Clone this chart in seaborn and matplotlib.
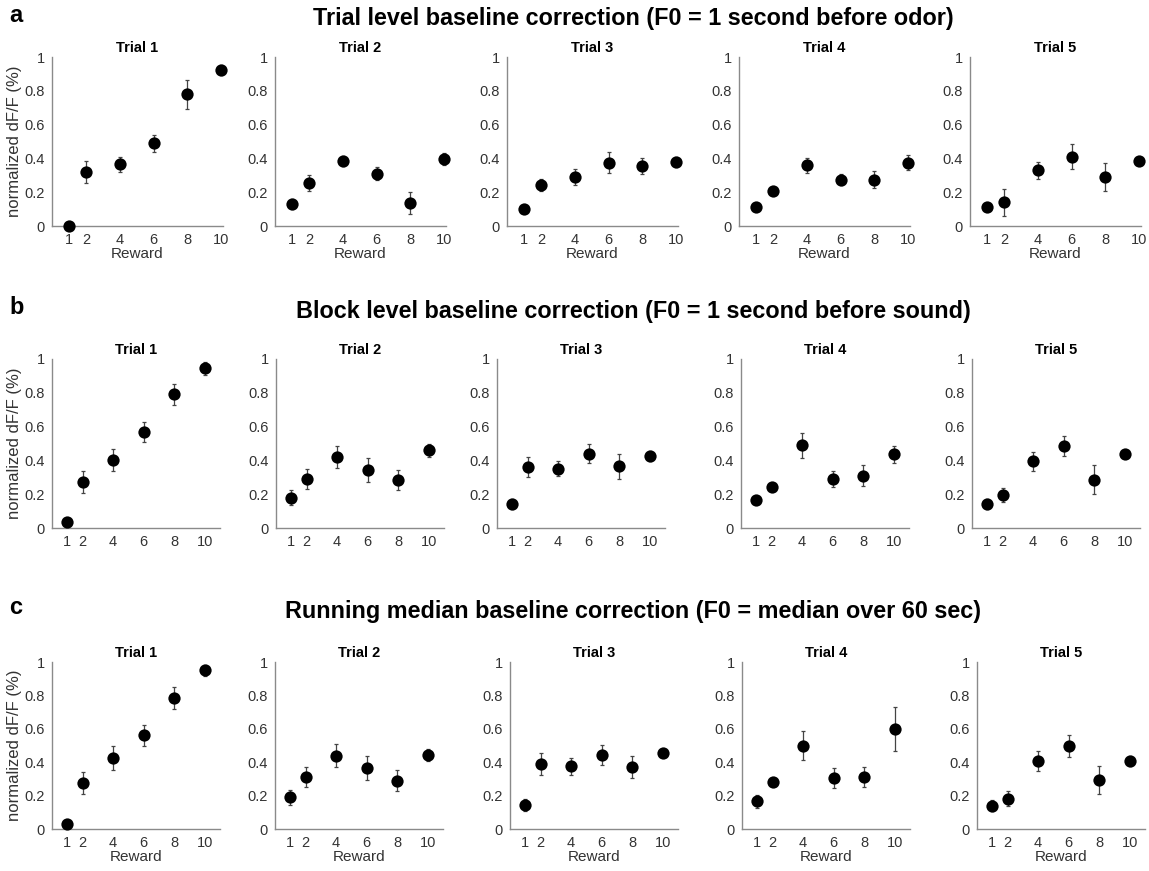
import matplotlib
matplotlib.use("Agg")
import matplotlib.pyplot as plt
import seaborn as sns
import pandas as pd
import numpy as np

sns.set_style("white")
plt.rcParams['font.family'] = ['Liberation Sans', 'DejaVu Sans']

rewards = [1, 2, 4, 6, 8, 10]
trial_names = ["Trial 1", "Trial 2", "Trial 3", "Trial 4", "Trial 5"]
row_letters = ["a", "b", "c"]
row_titles = [
    "Trial level baseline correction (F0 = 1 second before odor)",
    "Block level baseline correction (F0 = 1 second before sound)",
    "Running median baseline correction (F0 = median over 60 sec)",
]

a_mean = [
    [0.00, 0.32, 0.365, 0.49, 0.78, 0.925],
    [0.13, 0.255, 0.385, 0.31, 0.135, 0.395],
    [0.10, 0.245, 0.29, 0.375, 0.355, 0.38],
    [0.115, 0.205, 0.36, 0.275, 0.275, 0.375],
    [0.115, 0.14, 0.33, 0.41, 0.29, 0.385],
]
a_err = [
    [0.005, 0.065, 0.045, 0.05, 0.085, 0.03],
    [0.03, 0.045, 0.03, 0.04, 0.065, 0.035],
    [0.01, 0.035, 0.045, 0.06, 0.05, 0.03],
    [0.01, 0.01, 0.045, 0.035, 0.05, 0.045],
    [0.02, 0.08, 0.05, 0.075, 0.08, 0.015],
]
b_mean = [
    [0.035, 0.27, 0.405, 0.57, 0.79, 0.945],
    [0.18, 0.29, 0.42, 0.345, 0.285, 0.46],
    [0.14, 0.36, 0.35, 0.44, 0.365, 0.425],
    [0.165, 0.245, 0.49, 0.29, 0.31, 0.435],
    [0.14, 0.195, 0.395, 0.485, 0.285, 0.44],
]
b_err = [
    [0.01, 0.065, 0.065, 0.06, 0.065, 0.04],
    [0.045, 0.06, 0.065, 0.07, 0.06, 0.04],
    [0.03, 0.06, 0.045, 0.055, 0.075, 0.03],
    [0.01, 0.02, 0.075, 0.05, 0.06, 0.05],
    [0.03, 0.04, 0.055, 0.06, 0.085, 0.01],
]
c_mean = [
    [0.03, 0.275, 0.425, 0.56, 0.785, 0.95],
    [0.19, 0.31, 0.44, 0.365, 0.29, 0.445],
    [0.145, 0.39, 0.375, 0.445, 0.37, 0.455],
    [0.165, 0.28, 0.50, 0.305, 0.31, 0.60],
    [0.14, 0.18, 0.41, 0.495, 0.295, 0.405],
]
c_err = [
    [0.01, 0.065, 0.07, 0.06, 0.065, 0.035],
    [0.045, 0.06, 0.07, 0.07, 0.065, 0.035],
    [0.035, 0.065, 0.05, 0.06, 0.065, 0.015],
    [0.04, 0.02, 0.085, 0.06, 0.06, 0.13],
    [0.035, 0.045, 0.06, 0.065, 0.085, 0.03],
]

means = [a_mean, b_mean, c_mean]
errs = [a_err, b_err, c_err]

W, H = 1149, 871
fig = plt.figure(figsize=(W / 100, H / 100), dpi=100)

# layout in pixels
row_top = [57, 359, 662]
row_bot = [226, 528, 829]
row_lefts = [
    [52, 275, 507, 739, 970],
    [52, 276, 497, 741, 972],
    [52, 275, 510, 742, 977],
]
row_width = [171, 168, 168]
row_xmax = [10.1, 11.0, 11.0]
title_y = [19, 311, 611]
show_xlabel = [True, False, True]

spine_col = "#8a8a8a"
text_col = "#333333"

for r in range(3):
    for t in range(5):
        left = row_lefts[r][t] / W
        bottom = 1 - row_bot[r] / H
        height = (row_bot[r] - row_top[r]) / H
        width = row_width[r] / W
        ax = fig.add_axes([left, bottom, width, height])
        df = pd.DataFrame({"Reward": rewards, "value": means[r][t], "err": errs[r][t]})
        ax.errorbar(df["Reward"], df["value"], yerr=df["err"], fmt="none",
                    ecolor="#444444", elinewidth=0.9, capsize=1.6, capthick=0.9,
                    zorder=2, clip_on=False)
        sns.scatterplot(data=df, x="Reward", y="value", ax=ax, color="black",
                        s=78, edgecolor="black", linewidth=0, zorder=3,
                        clip_on=False, legend=False)
        ax.set_xlim(0, row_xmax[r])
        ax.set_ylim(0, 1)
        ax.set_xticks(rewards)
        ax.set_xticklabels([str(v) for v in rewards])
        ax.set_yticks([0, 0.2, 0.4, 0.6, 0.8, 1])
        ax.set_yticklabels(["0", "0.2", "0.4", "0.6", "0.8", "1"])
        for s in ["top", "right"]:
            ax.spines[s].set_visible(False)
        for s in ["left", "bottom"]:
            ax.spines[s].set_color(spine_col)
            ax.spines[s].set_linewidth(1.0)
        ax.tick_params(axis="both", which="major", direction="out", length=3,
                       width=0.8, color=spine_col, labelsize=10.5,
                       labelcolor=text_col, pad=2)
        ax.set_title(trial_names[t], fontsize=10.5, fontweight="bold", pad=3.5,
                     color="black")
        if show_xlabel[r]:
            ax.set_xlabel("Reward", fontsize=11, color=text_col, labelpad=0)
        else:
            ax.set_xlabel("")
        if t == 0:
            ax.set_ylabel("normalized dF/F (%)", fontsize=12, color=text_col, labelpad=2)
        else:
            ax.set_ylabel("")
        ax.grid(False)

    fig.text(633 / W, 1 - title_y[r] / H, row_titles[r], ha="center", va="center",
             fontsize=16.8, fontweight="bold", color="black")
    fig.text(9 / W, 1 - (title_y[r] - 3) / H, row_letters[r], ha="left", va="center",
             fontsize=17, fontweight="bold", color="black")

fig.savefig("out.png", dpi=100)
